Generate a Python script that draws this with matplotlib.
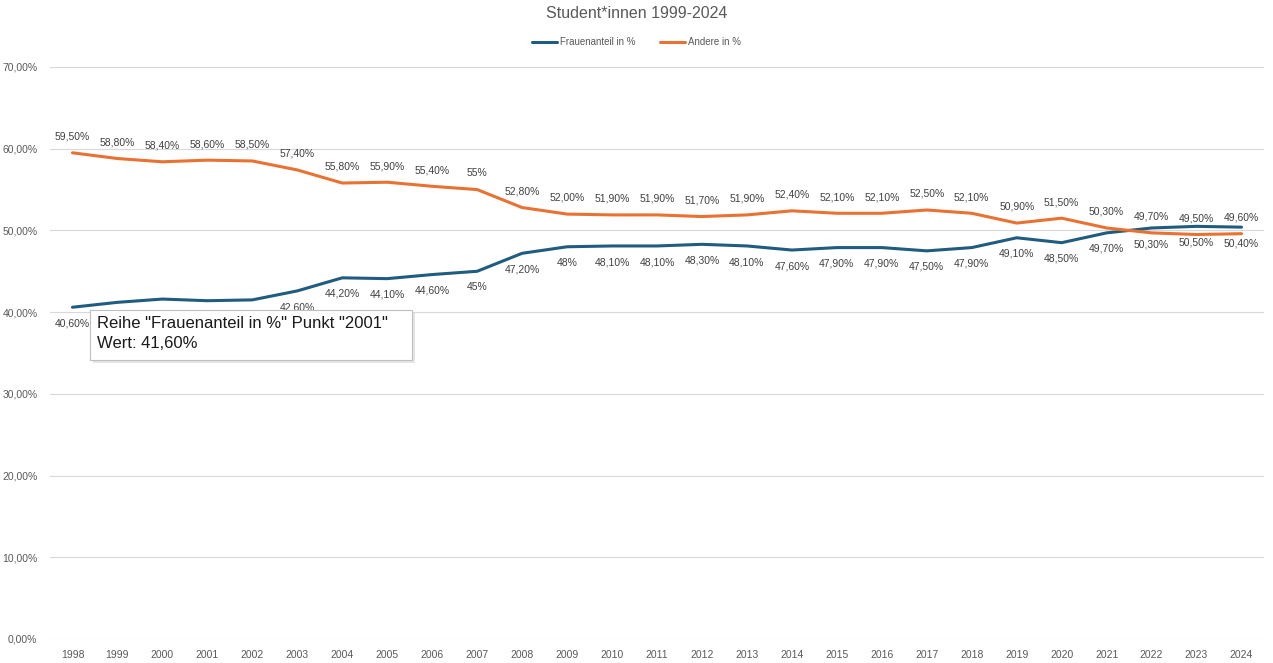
import numpy as np
import matplotlib
matplotlib.use('Agg')
import matplotlib.pyplot as plt
from matplotlib.patches import Rectangle

plt.rcParams['font.family'] = ['Liberation Sans', 'DejaVu Sans']

# data
years = [str(y) for y in range(1998, 2025)]
frauen = [40.6, 41.2, 41.6, 41.4, 41.5, 42.6, 44.2, 44.1, 44.6, 45.0, 47.2, 48.0, 48.1, 48.1,
          48.3, 48.1, 47.6, 47.9, 47.9, 47.5, 47.9, 49.1, 48.5, 49.7, 50.3, 50.5, 50.4]
andere = [59.5, 58.8, 58.4, 58.6, 58.5, 57.4, 55.8, 55.9, 55.4, 55.0, 52.8, 52.0, 51.9, 51.9,
          51.7, 51.9, 52.4, 52.1, 52.1, 52.5, 52.1, 50.9, 51.5, 50.3, 49.7, 49.5, 49.6]
frauen_lbl = ['40,60%', '41,20%', '41,60%', '41,40%', '41,50%', '42,60%', '44,20%', '44,10%', '44,60%',
              '45%', '47,20%', '48%', '48,10%', '48,10%', '48,30%', '48,10%', '47,60%', '47,90%',
              '47,90%', '47,50%', '47,90%', '49,10%', '48,50%', '49,70%', '50,30%', '50,50%', '50,40%']
andere_lbl = ['59,50%', '58,80%', '58,40%', '58,60%', '58,50%', '57,40%', '55,80%', '55,90%', '55,40%',
              '55%', '52,80%', '52,00%', '51,90%', '51,90%', '51,70%', '51,90%', '52,40%', '52,10%',
              '52,10%', '52,50%', '52,10%', '50,90%', '51,50%', '50,30%', '49,70%', '49,50%', '49,60%']
yticks = [0, 10, 20, 30, 40, 50, 60, 70]

blue = '#1f5c80'
orange = '#e97132'
txtc = '#595959'

W, H = 1273, 663
fig = plt.figure(figsize=(W / 100, H / 100), dpi=100)
ax = fig.add_axes([50 / W, 24 / H, 1214 / W, 572 / H])

x = np.arange(len(years))
ax.plot(x, frauen, color=blue, lw=2.2, label='Frauenanteil in %', solid_capstyle='round')
ax.plot(x, andere, color=orange, lw=2.2, label='Andere in %', solid_capstyle='round')

for i in range(len(years)):
    ax.annotate(andere_lbl[i], (x[i], andere[i]), xytext=(0, 8), textcoords='offset points',
                ha='center', va='bottom', fontsize=7.5, color='#404040')
    ax.annotate(frauen_lbl[i], (x[i], frauen[i]), xytext=(0, -8), textcoords='offset points',
                ha='center', va='top', fontsize=7.5, color='#404040')

ax.set_xlim(-0.5, len(years) - 0.5)
ax.set_ylim(0, 70)
ax.set_xticks(x)
ax.set_xticklabels(years)
ax.set_yticks(yticks)
ax.set_yticklabels(['%d,00%%' % v for v in yticks])
ax.tick_params(length=0, labelsize=7.5, labelcolor=txtc, pad=8)
ax.tick_params(axis='y', pad=9)
ax.grid(axis='y', color='#d9d9d9', lw=0.8)
ax.set_axisbelow(True)
for s in ax.spines.values():
    s.set_visible(False)

fig.text(0.5, 1 - 13 / H, 'Student*innen 1999-2024', ha='center', va='center', fontsize=11.5, color=txtc)
fig.legend(loc='center', bbox_to_anchor=(0.5, 1 - 42 / H), ncol=2, frameon=False, fontsize=7,
           handlelength=2.6, columnspacing=2.5, handletextpad=0.3, labelcolor=txtc)

# tooltip box (covers some labels, as in the original screenshot)
fig.patches.append(Rectangle((93 / W, 1 - 363 / H), 322 / W, 50 / H, transform=fig.transFigure,
                             facecolor='#cccccc', edgecolor='none', alpha=0.5, zorder=9))
fig.patches.append(Rectangle((90 / W, 1 - 360 / H), 322 / W, 50 / H, transform=fig.transFigure,
                             facecolor='white', edgecolor='#bfbfbf', lw=0.8, zorder=10))
fig.text(97 / W, 1 - 316 / H, 'Reihe "Frauenanteil in %" Punkt "2001"\nWert: 41,60%',
         ha='left', va='top', fontsize=12, color='#1a1a1a', linespacing=1.4, zorder=11)

fig.savefig('out.png', dpi=100)
